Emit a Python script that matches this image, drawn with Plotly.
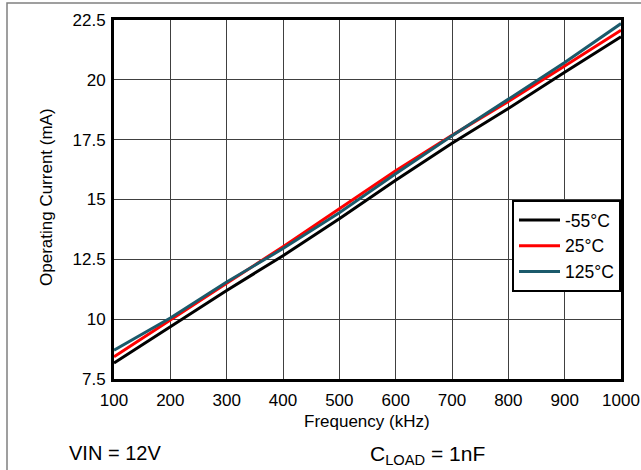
import plotly.graph_objects as go

freq_khz = [100, 200, 300, 400, 500, 600, 700, 800, 900, 1000]
current_m55 = [8.17, 9.68, 11.20, 12.65, 14.20, 15.80, 17.35, 18.80, 20.32, 21.80]
current_25 = [8.43, 9.95, 11.50, 13.03, 14.60, 16.20, 17.68, 19.10, 20.58, 22.07]
current_125 = [8.70, 10.05, 11.55, 12.95, 14.45, 16.08, 17.66, 19.19, 20.72, 22.35]

series_names = ["-55°C", "25°C", "125°C"]
series_colors = ["#000000", "#ff0000", "#1b5a6b"]
series_values = [current_m55, current_25, current_125]

y_ticks = [7.5, 10, 12.5, 15, 17.5, 20, 22.5]
x_ticks = [100, 200, 300, 400, 500, 600, 700, 800, 900, 1000]

W, H = 641, 470
L, R, T, B = 114, 20, 20, 91
PW, PH = W - L - R, H - T - B


def px_x(x):
    return (x - L) / PW


def px_y(y):
    return (H - B - y) / PH


fig = go.Figure()
for name, color, vals in zip(series_names, series_colors, series_values):
    fig.add_trace(go.Scatter(x=freq_khz, y=vals, mode="lines", name=name,
                             line=dict(color=color, width=3)))

font = dict(family="Liberation Sans, Arial, sans-serif", color="#000000")

fig.update_layout(
    width=W, height=H,
    margin=dict(l=L, r=R, t=T, b=B, autoexpand=False),
    paper_bgcolor="white", plot_bgcolor="white",
    font=dict(**font, size=17),
    legend=dict(x=1.0, xanchor="right", y=px_y(200), yanchor="top",
                bgcolor="white", bordercolor="black", borderwidth=2,
                font=dict(**font, size=17.5), tracegroupgap=0,
                itemwidth=41),
    shapes=[dict(type="rect", xref="paper", yref="paper",
                 x0=px_x(7), x1=px_x(W + 5),
                 y0=px_y(H + 10), y1=px_y(3),
                 line=dict(color="#808080", width=1.5), layer="below")],
    annotations=[
        dict(text="Frequency (kHz)", xref="paper", yref="paper",
             x=px_x(367), xanchor="center", y=px_y(421), yanchor="middle",
             showarrow=False, font=dict(**font, size=17)),
        dict(text="Operating Current (mA)", xref="paper", yref="paper",
             x=px_x(46), xanchor="center", y=px_y(197), yanchor="middle",
             textangle=-90, showarrow=False, font=dict(**font, size=17)),
        dict(text="VIN = 12V", xref="paper", yref="paper",
             x=px_x(67), xanchor="left", y=px_y(453), yanchor="middle",
             showarrow=False, font=dict(**font, size=20)),
        dict(text="C<sub>LOAD</sub> = 1nF", xref="paper", yref="paper",
             x=px_x(368), xanchor="left", y=px_y(455), yanchor="middle",
             showarrow=False, font=dict(**font, size=21)),
    ],
)

fig.update_xaxes(range=[100, 1000], tickvals=x_ticks, ticks="", showgrid=True,
                 gridcolor="#404040", gridwidth=1, showline=True, linecolor="black",
                 linewidth=3, mirror=True, zeroline=False, ticklabelstandoff=4,
                 automargin=False, tickfont=dict(**font, size=17))
fig.update_yaxes(range=[7.5, 22.5], tickvals=y_ticks, ticks="", showgrid=True,
                 gridcolor="#404040", gridwidth=1, showline=True, linecolor="black",
                 linewidth=3, mirror=True, zeroline=False, ticklabelstandoff=2,
                 automargin=False, tickfont=dict(**font, size=17))

fig.write_html("out.html", config={"displayModeBar": False},
               post_script="document.body.style.margin='0';")
